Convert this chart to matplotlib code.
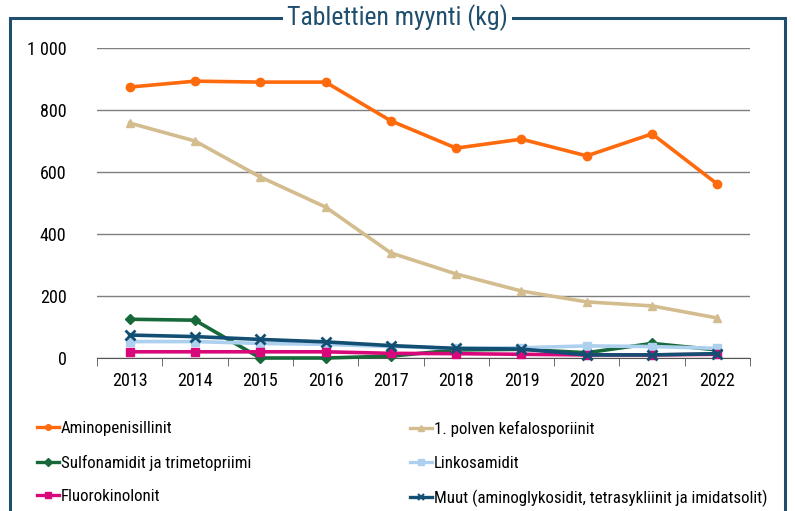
import matplotlib
matplotlib.use("Agg")
import matplotlib.pyplot as plt
from matplotlib import font_manager
from matplotlib.patches import Rectangle
from matplotlib.lines import Line2D

years = ["2013", "2014", "2015", "2016", "2017", "2018", "2019", "2020", "2021", "2022"]
aminopenisillinit = [874, 893, 890, 890, 765, 677, 706, 652, 723, 561]
kefalosporiinit = [758, 700, 584, 487, 339, 271, 216, 181, 168, 129]
sulfonamidit = [125, 122, 0, 0, 6, 26, 28, 17, 47, 26]
linkosamidit = [53, 53, 47, 44, 37, 31, 33, 39, 37, 31]
fluorokinolonit = [20, 20, 20, 20, 15, 14, 12, 10, 10, 12]
muut = [74, 69, 60, 52, 40, 31, 29, 10, 10, 14]

labels = ["Aminopenisillinit", "1. polven kefalosporiinit", "Sulfonamidit ja trimetopriimi",
          "Linkosamidit", "Fluorokinolonit",
          "Muut (aminoglykosidit, tetrasykliinit ja imidatsolit)"]
colors = ["#ff6a0d", "#d3bc8d", "#17693a", "#acd0ee", "#d9087a", "#134f73"]
markers = ["o", "^", "D", "s", "s", "x"]
msizes = [6, 6, 5, 6, 6, 7]

font = "DejaVu Sans"
for name in ["Roboto Condensed", "Liberation Sans Narrow", "Roboto"]:
    try:
        font_manager.findfont(name, fallback_to_default=False)
        font = name
        break
    except Exception:
        pass
plt.rcParams["font.family"] = [font, "DejaVu Sans"]

fig = plt.figure(figsize=(7.95, 5.11), dpi=100)
W, H = 795, 511

# outer frame with title breaking the top line
frame = Rectangle((10 / W, -0.05), 775 / W, 1.05 - 18 / H, transform=fig.transFigure,
                  fill=False, edgecolor="#1f4e6e", linewidth=2.2)
fig.patches.append(frame)
fig.text(0.5, 1 - 18 / H, "Tablettien myynti (kg)", ha="center", va="center",
         fontsize=18.5, color="#1f4e6e",
         bbox=dict(facecolor="white", edgecolor="none", pad=3))

ax = fig.add_axes([97 / W, 1 - 358 / H, 653 / W, 310 / H])
series = [aminopenisillinit, kefalosporiinit, sulfonamidit, linkosamidit, fluorokinolonit, muut]
x = range(len(years))
draw_order = [1, 0, 2, 3, 5, 4]
for i in draw_order:
    ax.plot(x, series[i], color=colors[i], marker=markers[i], markersize=msizes[i],
            linewidth=2.6, markeredgewidth=2 if markers[i] == "x" else 1,
            label=labels[i], zorder=3 + i, clip_on=False)

ax.set_ylim(0, 1000)
ax.set_xlim(-0.5, len(years) - 0.5)
ax.set_yticks(range(0, 1001, 200))
ax.set_yticklabels([f"{v:,}".replace(",", " ") for v in range(0, 1001, 200)])
ax.set_xticks(list(x))
ax.set_xticklabels(years)
ax.set_xticks([i - 0.5 for i in range(len(years) + 1)], minor=True)
ax.tick_params(axis="x", which="major", length=0, pad=10, labelsize=13)
ax.tick_params(axis="x", which="minor", length=6, color="#555555")
ax.tick_params(axis="y", length=0, pad=22, labelsize=13)
ax.grid(axis="y", color="#7f7f7f", linewidth=1)
ax.set_axisbelow(True)
for s in ["left", "right", "top"]:
    ax.spines[s].set_visible(False)
ax.spines["bottom"].set_color("#555555")

def leg_handle(i):
    return Line2D([], [], color=colors[i], marker=markers[i], markersize=4,
                  linewidth=2.4, markeredgewidth=1.5 if markers[i] == "x" else 1)

kw = dict(frameon=False, fontsize=12.2, handlelength=1.3, handletextpad=0.1,
          labelspacing=1.1, borderpad=0, borderaxespad=0, loc="upper left")
fig.legend([leg_handle(i) for i in [0, 2, 4]], [labels[i] for i in [0, 2, 4]],
           bbox_to_anchor=(37 / W, 1 - 421 / H), **kw)
fig.legend([leg_handle(i) for i in [1, 3, 5]], [labels[i] for i in [1, 3, 5]],
           bbox_to_anchor=(410 / W, 1 - 421 / H), **kw)

fig.savefig("out.png", dpi=100)
